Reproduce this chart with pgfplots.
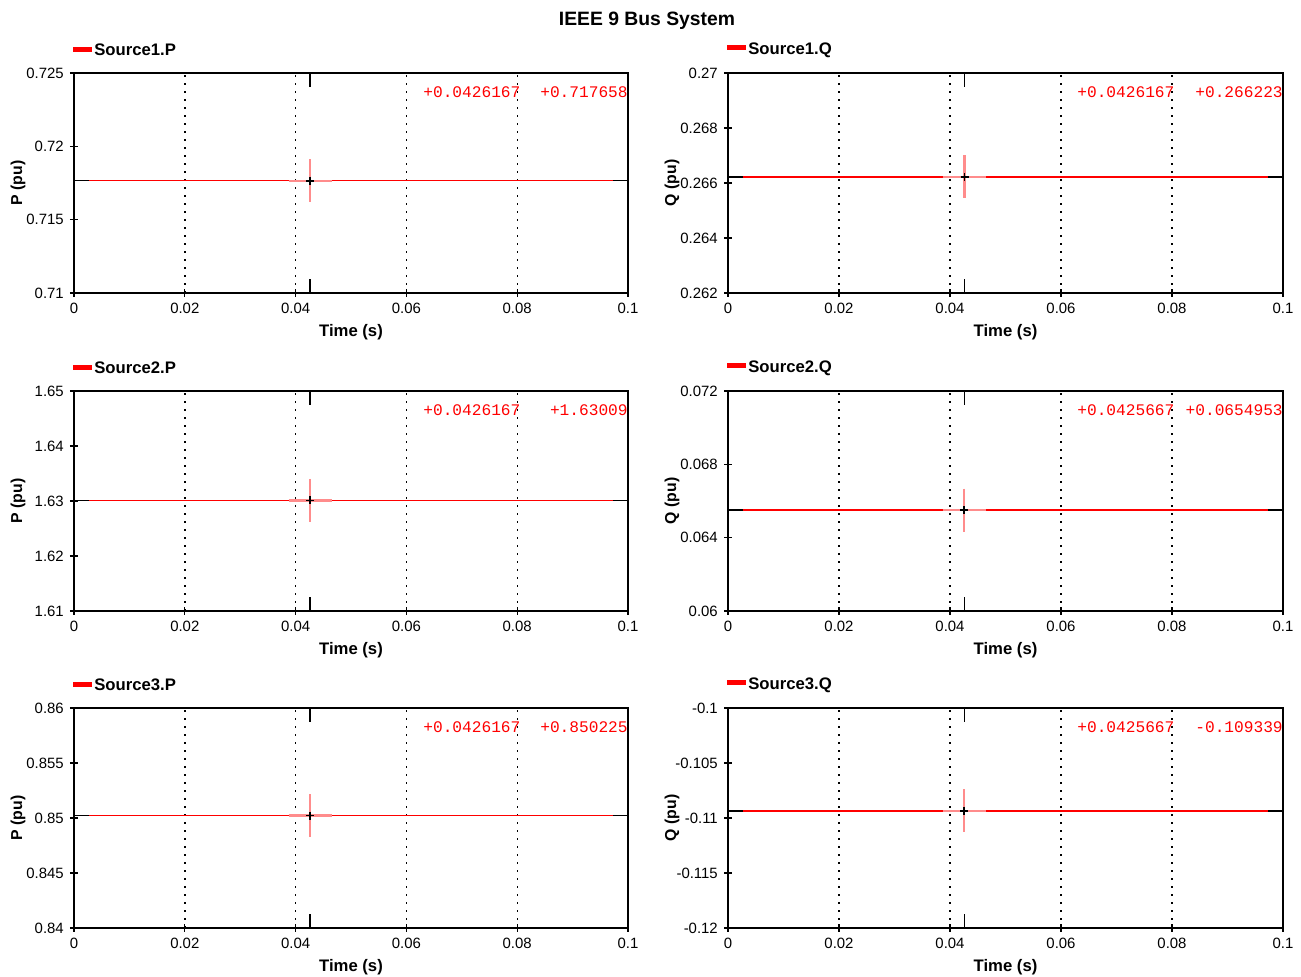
\documentclass[border=0pt]{standalone}
\usepackage{fontspec}
\setmainfont{Liberation Sans}
\newfontfamily\monofont{Liberation Mono}
\usepackage{pgfplots}
\pgfplotsset{compat=1.18}
\usetikzlibrary{calc}

\definecolor{cursorpink}{RGB}{255,140,140}

\pgfplotsset{
  busplot/.style={
    scale only axis, height=4.4cm,
    xmin=0, xmax=0.1, xtick={0,0.02,0.04,0.06,0.08,0.1},
    scaled x ticks=false, scaled y ticks=false,
    xmajorgrids,
    major grid style={black, line width=0.8pt, dash pattern=on 0.03cm off 0.13cm},
    axis line style={line width=0.9pt},
    tick align=center, xtick pos=bottom, ytick pos=left,
    major tick length=0.16cm, tick style={black, line width=0.7pt},
    ticklabel style={font=\fontsize{8.5}{10}\selectfont},
    /pgf/number format/assume math mode=true,
    /pgf/number format/precision=4,
    clip=false,
  }
}

% #1 cursor x, #2 value, #3 ymin, #4 ymax, #5 cursor text, #6 value text, #7 legend, #8 y label
\newcommand{\panel}[8]{%
  \addplot[red, line width=0.9pt] coordinates {(0,#2) (0.1,#2)};
  \addplot[black, line width=0.9pt] coordinates {(0,#2) (0.0027,#2)};
  \addplot[black, line width=0.9pt] coordinates {(0.0973,#2) (0.1,#2)};
  \addplot[only marks, mark=+, mark size=0.43cm,
    mark options={line width=1.2pt, draw=cursorpink}] coordinates {(#1,#2)};
  \addplot[only marks, mark=+, mark size=0.08cm,
    mark options={line width=1pt, draw=black}] coordinates {(#1,#2)};
  \draw[black, line width=0.8pt] (axis cs:#1,#4) -- ++(0cm,-0.28cm);
  \draw[black, line width=0.8pt] (axis cs:#1,#3) -- ++(0cm,0.28cm);
  \node[anchor=west, text=red, inner sep=0pt, font=\monofont\fontsize{9.2}{10}\selectfont]
    at ($(rel axis cs:0,1)+(6.98cm,-0.38cm)$) {#5};
  \node[anchor=east, text=red, inner sep=0pt, font=\monofont\fontsize{9.2}{10}\selectfont]
    at ($(rel axis cs:1,1)+(0cm,-0.38cm)$) {#6};
  \node[anchor=west, inner sep=0pt, font=\bfseries\fontsize{9.5}{11}\selectfont]
    at ($(rel axis cs:0,1)+(-0.02cm,0.46cm)$)
    {\textcolor{red}{\rule[0.08cm]{0.38cm}{0.1cm}}\hspace{0.04cm}#7};
  \node[rotate=90, font=\bfseries\fontsize{9}{10}\selectfont]
    at ($(rel axis cs:0,0.5)+(-1.12cm,0cm)$) {#8};
  \node[font=\bfseries\fontsize{9.5}{11}\selectfont]
    at ($(rel axis cs:0.5,0)+(0cm,-0.78cm)$) {Time (s)};
}

\begin{document}
\begin{tikzpicture}
\path[use as bounding box] (0,0) rectangle (26.02cm,19.52cm);
\node[font=\bfseries\fontsize{11}{13}\selectfont] at (12.94cm,19.1cm) {IEEE 9 Bus System};

% row 1
\begin{axis}[busplot, width=11.08cm, at={(1.48cm,18.06cm)}, anchor=north west,
  ymin=0.71, ymax=0.725, ytick={0.71,0.715,0.72,0.725}]
  \panel{0.0426167}{0.717658}{0.71}{0.725}{+0.0426167}{+0.717658}{Source1.P}{P (pu)}
\end{axis}
\begin{axis}[busplot, width=11.1cm, at={(14.56cm,18.06cm)}, anchor=north west,
  ymin=0.262, ymax=0.27, ytick={0.262,0.264,0.266,0.268,0.27}]
  \panel{0.0426167}{0.266223}{0.262}{0.27}{+0.0426167}{+0.266223}{Source1.Q}{Q (pu)}
\end{axis}

% row 2
\begin{axis}[busplot, width=11.08cm, at={(1.48cm,11.70cm)}, anchor=north west,
  ymin=1.61, ymax=1.65, ytick={1.61,1.62,1.63,1.64,1.65}]
  \panel{0.0426167}{1.63009}{1.61}{1.65}{+0.0426167}{+1.63009}{Source2.P}{P (pu)}
\end{axis}
\begin{axis}[busplot, width=11.1cm, at={(14.56cm,11.70cm)}, anchor=north west,
  ymin=0.06, ymax=0.072, ytick={0.06,0.064,0.068,0.072}]
  \panel{0.0425667}{0.0654953}{0.06}{0.072}{+0.0425667}{+0.0654953}{Source2.Q}{Q (pu)}
\end{axis}

% row 3
\begin{axis}[busplot, width=11.08cm, at={(1.48cm,5.36cm)}, anchor=north west,
  ymin=0.84, ymax=0.86, ytick={0.84,0.845,0.85,0.855,0.86}]
  \panel{0.0426167}{0.850225}{0.84}{0.86}{+0.0426167}{+0.850225}{Source3.P}{P (pu)}
\end{axis}
\begin{axis}[busplot, width=11.1cm, at={(14.56cm,5.36cm)}, anchor=north west,
  ymin=-0.12, ymax=-0.1, ytick={-0.12,-0.115,-0.11,-0.105,-0.1}]
  \panel{0.0425667}{-0.109339}{-0.12}{-0.1}{+0.0425667}{-0.109339}{Source3.Q}{Q (pu)}
\end{axis}
\end{tikzpicture}
\end{document}
